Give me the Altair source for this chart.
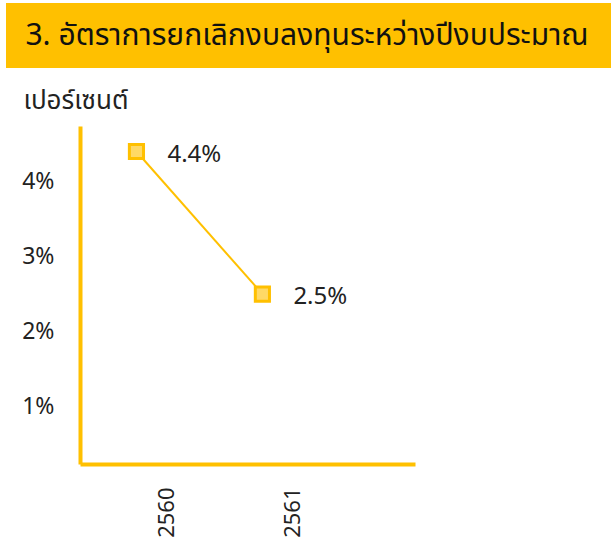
import altair as alt
import pandas as pd

years = ["2560", "2561"]
rates = [4.4, 2.5]
labels = ["4.4%", "2.5%"]
y_ticks = [1, 2, 3, 4]
title_text = "3. อัตราการยกเลิกงบลงทุนระหว่างปีงบประมาณ"
y_title = "เปอร์เซนต์"

YEL = "#FFC000"
FONT = "Noto Sans Thai, Noto Sans, sans-serif"

df = pd.DataFrame({"year": years, "rate": rates, "label": labels})

x = alt.X("year:O", scale=alt.Scale(type="point", domain=years, padding=0.83, align=0.27),
          axis=alt.Axis(title=None, labelAngle=270, labelAlign="right", labelBaseline="middle",
                        labelPadding=23, labelOffset=30, ticks=False, domainColor=YEL,
                        domainWidth=4, labelFontSize=22, labelColor="#222", labelFont=FONT,
                        grid=False))
y = alt.Y("rate:Q", scale=alt.Scale(domain=[0.235, 4.74], nice=False, zero=False),
          axis=alt.Axis(values=y_ticks, labelExpr="datum.value + '%'", ticks=False,
                        labelPadding=26, domainColor=YEL, domainWidth=4, grid=False,
                        labelFontSize=23, labelColor="#222", labelFont=FONT,
                        title=y_title, titleAngle=0, titleAlign="left", titleBaseline="middle",
                        titleX=-57, titleY=-26, titleFontSize=26, titleFontWeight="normal",
                        titleColor="#222", titleFont=FONT))

banner = alt.Chart(pd.DataFrame({"t": [title_text]})).mark_rect(color=YEL).encode(
    x=alt.value(-74), x2=alt.value(531), y=alt.value(-123), y2=alt.value(-58))
banner_text = alt.Chart(pd.DataFrame({"t": [title_text]})).mark_text(
    fontSize=30, font=FONT, color="#111", align="center", baseline="middle").encode(
    x=alt.value(227), y=alt.value(-90), text="t:N")

base = alt.Chart(df)
line = base.mark_line(color=YEL, strokeWidth=2).encode(x=x, y=y)
pts = base.mark_point(shape="square", size=200, filled=True, fill="#FFD966",
                      stroke=YEL, strokeWidth=3, opacity=1).encode(x=x, y=y)
txt = base.mark_text(align="left", baseline="middle", dx=31, dy=3, fontSize=24,
                     font=FONT, color="#222").encode(x=x, y=y, text="label:N")

chart = alt.layer(banner, banner_text, line, pts, txt).properties(
    width=335, height=338,
    autosize=alt.AutoSizeParams(type="none"),
    padding={"left": 80, "top": 126, "right": 196, "bottom": 81},
    background="white",
).configure_view(stroke=None)

chart.save("out.html", embed_options={"renderer": "svg", "actions": False})
